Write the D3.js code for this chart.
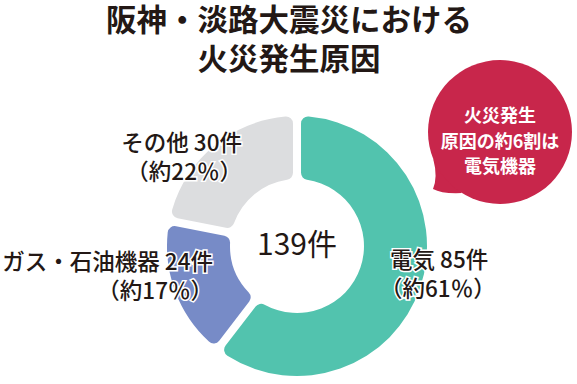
<!DOCTYPE html>
<html>
<head>
<meta charset="utf-8">
<script src="https://cdn.jsdelivr.net/npm/d3@7"></script>
<style>
  body { margin: 0; background: #fff; }
  text { font-family: "Noto Sans CJK JP", "Noto Sans", sans-serif; fill: #231815; }
</style>
</head>
<body>
<div id="chart"></div>
<script>
var svgWidth = 577;
var svgHeight = 384;

// data
var categories = ["電気", "ガス・石油機器", "その他"];
var counts = [85, 24, 30];
var shareLabels = ["約61％", "約17％", "約22％"];
var totalLabel = "139件";
var titleLines = ["阪神・淡路大震災における", "火災発生原因"];
var calloutLines = ["火災発生", "原因の約6割は", "電気機器"];

var sliceColors = ["#52c3ae", "#778bc7", "#dcdddf"];

var svg = d3.select("#chart")
  .append("svg")
  .attr("width", svgWidth)
  .attr("height", svgHeight);

// title
svg.append("g").selectAll("text")
  .data(titleLines)
  .enter()
  .append("text")
  .attr("x", 289)
  .attr("y", (d, i) => 31 + i * 39)
  .attr("text-anchor", "middle")
  .attr("font-size", "30.5px")
  .attr("font-weight", "bold")
  .text(d => d);

// callout bubble
var bubble = { cx: 500, cy: 132, r: 72 };
var callout = svg.append("g");
var a1 = 122 * Math.PI / 180, a2 = 158 * Math.PI / 180;
callout.append("path")
  .attr("d", `M${bubble.cx + bubble.r * Math.cos(a1)},${bubble.cy + bubble.r * Math.sin(a1)}
    Q${bubble.cx - 58},${bubble.cy + 62} 433,${bubble.cy + 57}
    Q${bubble.cx - 62},${bubble.cy + 45} ${bubble.cx + bubble.r * Math.cos(a2)},${bubble.cy + bubble.r * Math.sin(a2)} Z`)
  .attr("fill", "#c8264b");
callout.append("circle")
  .attr("cx", bubble.cx)
  .attr("cy", bubble.cy)
  .attr("r", bubble.r)
  .attr("fill", "#c8264b");
callout.selectAll("text")
  .data(calloutLines)
  .enter()
  .append("text")
  .attr("x", bubble.cx)
  .attr("y", (d, i) => 122 + i * 25.5)
  .attr("text-anchor", "middle")
  .attr("font-size", "18px")
  .attr("font-weight", "bold")
  .style("fill", "#fff")
  .text(d => d);

// donut
var center = { x: 297, y: 246 };
var pie = d3.pie().sort(null).padAngle(0.055);
var arc = d3.arc().innerRadius(67).outerRadius(130).cornerRadius(7);
var color = d3.scaleOrdinal().domain(categories).range(sliceColors);

var donut = svg.append("g")
  .attr("transform", `translate(${center.x}, ${center.y})`);

donut.selectAll("path")
  .data(pie(counts))
  .enter()
  .append("path")
  .attr("d", arc)
  .attr("fill", (d, i) => color(categories[i]));

donut.append("text")
  .attr("text-anchor", "middle")
  .attr("y", 9)
  .attr("font-size", "30px")
  .text(totalLabel);

// slice labels
var labelPos = [
  { x: 390, y: 268, anchor: "start", dx2: -10 },
  { x: 213, y: 270, anchor: "end", dx2: 0 },
  { x: 242, y: 151, anchor: "end", dx2: 0 }
];

var labels = svg.append("g").selectAll("g")
  .data(categories)
  .enter()
  .append("g")
  .attr("transform", (d, i) => `translate(${labelPos[i].x}, ${labelPos[i].y})`);

labels.append("text")
  .attr("text-anchor", (d, i) => labelPos[i].anchor)
  .attr("font-size", "22.5px")
  .attr("font-weight", 500)
  .attr("stroke", "#fff")
  .attr("stroke-width", 3)
  .attr("paint-order", "stroke")
  .text((d, i) => `${d} ${counts[i]}件`);

labels.append("text")
  .attr("text-anchor", (d, i) => labelPos[i].anchor)
  .attr("x", (d, i) => labelPos[i].dx2)
  .attr("y", 29)
  .attr("font-size", "22.5px")
  .attr("font-weight", 500)
  .attr("stroke", "#fff")
  .attr("stroke-width", 3)
  .attr("paint-order", "stroke")
  .text((d, i) => `（${shareLabels[i]}）`);
</script>
</body>
</html>
